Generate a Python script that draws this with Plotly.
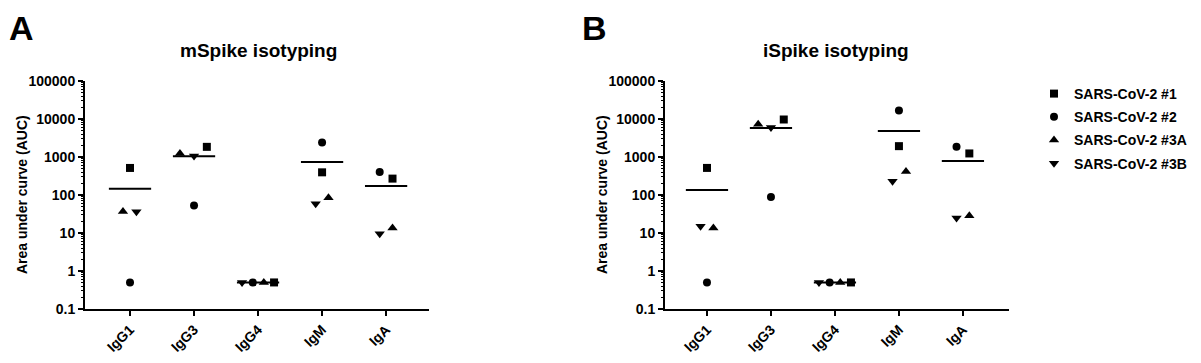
import numpy as np
import plotly.graph_objects as go

# ---------------- data ----------------
categories = ["IgG1", "IgG3", "IgG4", "IgM", "IgA"]
series_names = ["SARS-CoV-2 #1", "SARS-CoV-2 #2", "SARS-CoV-2 #3A", "SARS-CoV-2 #3B"]

# mSpike isotyping (AUC) per series, ordered as categories
mspike_s1 = [515, 1850, 0.5, 395, 270]
mspike_s2 = [0.5, 53, 0.5, 2400, 400]
mspike_s3a = [37, 1230, 0.5, 85, 13.5]
mspike_s3b = [36, 1070, 0.5, 59, 9.6]

# iSpike isotyping (AUC)
ispike_s1 = [516, 9700, 0.5, 1930, 1240]
ispike_s2 = [0.5, 89, 0.5, 16800, 1850]
ispike_s3a = [13.5, 7300, 0.5, 415, 28.5]
ispike_s3b = [15, 6000, 0.5, 230, 25]

y_tick_values = [0.1, 1, 10, 100, 1000, 10000, 100000]
y_tick_labels = ["0.1", "1", "10", "100", "1000", "10000", "100000"]

# horizontal spread of overlapping points (category units)
jitter_a = {
    "SARS-CoV-2 #1": [0, 0.2, 0.25, 0, 0.1],
    "SARS-CoV-2 #2": [0, 0, -0.083, 0, -0.1],
    "SARS-CoV-2 #3A": [-0.11, -0.22, 0.09, 0.1, 0.1],
    "SARS-CoV-2 #3B": [0.1, 0, -0.25, -0.1, -0.1],
}
jitter_b = {
    "SARS-CoV-2 #1": [0, 0.2, 0.25, 0, 0.1],
    "SARS-CoV-2 #2": [0, 0, -0.083, 0, -0.1],
    "SARS-CoV-2 #3A": [0.1, -0.2, 0.083, 0.11, 0.1],
    "SARS-CoV-2 #3B": [-0.1, 0, -0.25, -0.1, -0.1],
}

symbols = {
    "SARS-CoV-2 #1": "square",
    "SARS-CoV-2 #2": "circle",
    "SARS-CoV-2 #3A": "triangle-up",
    "SARS-CoV-2 #3B": "triangle-down",
}
marker_sizes = {
    "SARS-CoV-2 #1": 8,
    "SARS-CoV-2 #2": 8,
    "SARS-CoV-2 #3A": 9,
    "SARS-CoV-2 #3B": 9,
}

panel_a = dict(zip(series_names, [mspike_s1, mspike_s2, mspike_s3a, mspike_s3b]))
panel_b = dict(zip(series_names, [ispike_s1, ispike_s2, ispike_s3a, ispike_s3b]))

# page has an 8px body margin: size the figure to fit inside it
OFF = 8
W, H = 1201 - 2 * OFF, 363 - 2 * OFF
FONT = "Liberation Sans, Arial, sans-serif"

def px(x):
    return (x - OFF) / W

def py(y):
    return 1 - (y - OFF) / H

minor_vals = [m * 10.0 ** k for k in range(-1, 5) for m in range(2, 10)]

fig = go.Figure()

def add_panel(values, jitter, xa, ya, showlegend):
    xs_base = np.arange(len(categories))
    for name in series_names:
        fig.add_trace(go.Scatter(
            x=xs_base + np.array(jitter[name]),
            y=values[name],
            mode="markers",
            name=name,
            legendgroup=name,
            showlegend=showlegend,
            marker=dict(symbol=symbols[name], size=marker_sizes[name], color="black",
                        line=dict(width=0)),
            xaxis=xa, yaxis=ya,
        ))
    # mean lines
    means = np.mean(np.array([values[n] for n in series_names]), axis=0)
    lx, ly = [], []
    for i, m in enumerate(means):
        lx += [i - 0.33, i + 0.33, None]
        ly += [m, m, None]
    fig.add_trace(go.Scatter(x=lx, y=ly, mode="lines",
                             line=dict(color="black", width=2),
                             showlegend=False, hoverinfo="skip",
                             xaxis=xa, yaxis=ya))

add_panel(panel_a, jitter_a, "x", "y", True)
add_panel(panel_b, jitter_b, "x2", "y2", False)

ydom = [py(309), py(81)]

def xaxis_cfg(domain, rng, anchor):
    return dict(
        domain=domain, range=rng, anchor=anchor,
        tickmode="array", tickvals=list(range(len(categories))), ticktext=categories,
        tickangle=-45, ticks="outside", ticklen=5, tickwidth=2, tickcolor="black",
        showline=True, linewidth=2, linecolor="black", showgrid=False, zeroline=False,
        tickfont=dict(family=FONT, size=14, color="black", weight="bold"),
        automargin=False, fixedrange=True,
    )

def yaxis_cfg(anchor):
    return dict(
        domain=ydom, type="log", range=[-1, 5], anchor=anchor,
        tickmode="array", tickvals=y_tick_values, ticktext=y_tick_labels,
        ticks="outside", ticklen=5, tickwidth=2, tickcolor="black",
        minor=dict(tickmode="array", tickvals=minor_vals, ticks="outside",
                   ticklen=2, tickwidth=1, tickcolor="black", showgrid=False),
        showline=True, linewidth=2, linecolor="black", showgrid=False, zeroline=False,
        tickfont=dict(family=FONT, size=14, color="black", weight="bold"),
        automargin=False, fixedrange=True,
    )

fig.update_layout(
    width=W, height=H,
    margin=dict(l=0, r=0, t=0, b=0),
    paper_bgcolor="white", plot_bgcolor="white",
    font=dict(family=FONT, color="black", size=14, weight="bold"),
    xaxis=xaxis_cfg([px(85), px(429)], [-0.703, 4.67], "y"),
    yaxis=yaxis_cfg("x"),
    xaxis2=xaxis_cfg([px(665), px(1009)], [-0.656, 4.72], "y2"),
    yaxis2=yaxis_cfg("x2"),
    showlegend=True,
    legend=dict(x=px(1034), y=py(78), xanchor="left", yanchor="top",
                font=dict(family=FONT, size=14, color="black", weight="bold"),
                bgcolor="rgba(0,0,0,0)", borderwidth=0, tracegroupgap=2),
)

ann = []
for letter, lx in (("A", 8), ("B", 581)):
    ann.append(dict(text=letter, x=px(lx), y=py(8), xref="paper", yref="paper",
                    xanchor="left", yanchor="top", showarrow=False, borderpad=0,
                    font=dict(family=FONT, size=34, color="black", weight="bold")))
ann.append(dict(text="mSpike isotyping", x=px(258), y=py(50), xref="paper", yref="paper",
                xanchor="center", yanchor="middle", showarrow=False,
                font=dict(family=FONT, size=19, color="black", weight="bold")))
ann.append(dict(text="iSpike isotyping", x=px(836), y=py(50), xref="paper", yref="paper",
                xanchor="center", yanchor="middle", showarrow=False,
                font=dict(family=FONT, size=19, color="black", weight="bold")))
for xc in (22, 602):
    ann.append(dict(text="Area under curve (AUC)", x=px(xc), y=py(195),
                    xref="paper", yref="paper", xanchor="center", yanchor="middle",
                    textangle=-90, showarrow=False,
                    font=dict(family=FONT, size=14, color="black", weight="bold")))
fig.update_layout(annotations=ann)

fig.write_html("out.html")
